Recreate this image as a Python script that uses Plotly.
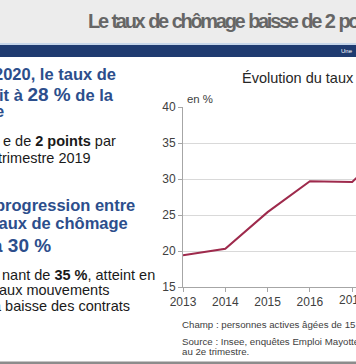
import plotly.graph_objects as go

# ---- data ----
years = [2013, 2014, 2015, 2016, 2017, 2018, 2019, 2020]
rate = [19.4, 20.3, 25.4, 29.7, 29.6, 35.0, 30.0, 28.0]
y_ticks = [15, 20, 25, 30, 35, 40]
x_ticks = [2013, 2014, 2015, 2016, 2017]

W, H = 356, 364
L, R, T, B = 183, 0, 107, 77
PW, PH = W - L - R, H - T - B

def px(x):
    return (x - L) / PW

def py(y):
    return (H - B - y) / PH

FONT = "Liberation Sans, Arial, sans-serif"
BLUE = "#2c4e8c"

fig = go.Figure()
fig.add_trace(go.Scatter(x=years, y=rate, mode="lines",
                         line=dict(color="#9e2a4c", width=2), hoverinfo="skip"))

shapes = [
    dict(type="rect", xref="paper", yref="paper", x0=px(-5), x1=px(W + 5), y0=py(0 - 5), y1=py(43),
         fillcolor="#ececec", line=dict(width=0), layer="below"),
    dict(type="rect", xref="paper", yref="paper", x0=px(-5), x1=px(W + 5), y0=py(43), y1=py(45),
         fillcolor="#c6d6ea", line=dict(width=0), layer="below"),
    dict(type="rect", xref="paper", yref="paper", x0=px(-5), x1=px(W + 5), y0=py(45), y1=py(57),
         fillcolor="#1f3b70", line=dict(width=0), layer="below"),
    dict(type="rect", xref="paper", yref="paper", x0=px(-5), x1=px(W + 5), y0=py(361.5), y1=py(H + 5),
         fillcolor="#8c8c8c", line=dict(width=0), layer="below"),
]

ann = []
def add(text, x, y, size, color, anchor="right"):
    ann.append(dict(text=text, x=px(x), y=py(y), xref="paper", yref="paper",
                    showarrow=False, xanchor=anchor, yanchor="middle",
                    font=dict(family=FONT, size=size, color=color), borderpad=0))

# header
add("<b><span style='letter-spacing:-2.3px;word-spacing:1.5px'>Le taux de chômage baisse de 2 po</span></b>",
    87, 21.5, 20, "#666666", anchor="left")
add("Une", 340, 51, 6, "#ffffff", anchor="left")

# left text
add("<b>2020, le taux de</b>", 116.7, 74.2, 16.5, BLUE)
add("<b>it à <span style='font-size:19px'>28 %</span> de la</b>", 115, 94, 16.5, BLUE)
add("<b>e</b>", 5, 111, 16.5, BLUE)
add("e de <b>2 points</b> par", 116.7, 140.6, 14.5, "#1a1a1a")
add("trimestre 2019", 91.7, 157.6, 14.5, "#1a1a1a")
add("<b>progression entre</b>", 136, 205, 16.5, BLUE)
add("<b>taux de chômage</b>", 129, 223.3, 16.5, BLUE)
add("<b>à 30 %</b>", 51.7, 245, 19, BLUE)
add("nant de <b>35 %</b>, atteint en", 156, 275, 14.5, "#1a1a1a")
add("aux mouvements", 110, 290, 14.5, "#1a1a1a")
add("a baisse des contrats", 131, 305.6, 14.5, "#1a1a1a")

# chart texts
add("Évolution du taux", 241, 77.7, 14.5, "#262626", anchor="left")
add("en %", 185.5, 99.3, 11.4, "#404040", anchor="left")
add("Champ : personnes actives âgées de 15", 181, 324.5, 9.7, "#404040", anchor="left")
add("Source : Insee, enquêtes Emploi Mayotte", 181, 341, 9.7, "#404040", anchor="left")
add("au 2e trimestre.", 181, 351.5, 9.7, "#404040", anchor="left")

# last (partially visible) x tick label, placed on the x axis scale
ann.append(dict(text=str(x_ticks[-1]), x=x_ticks[-1], xref="x", y=py(300), yref="paper",
                showarrow=False, xanchor="center", yanchor="middle",
                font=dict(family=FONT, size=12, color="#404040"), borderpad=0))

fig.update_layout(
    width=W, height=H,
    margin=dict(l=L, r=R, t=T, b=B, pad=0),
    paper_bgcolor="#ffffff", plot_bgcolor="#ffffff",
    showlegend=False,
    shapes=shapes, annotations=ann,
    font=dict(family=FONT, size=12, color="#404040"),
    xaxis=dict(range=[2013, 2017.09], tickvals=x_ticks, ticktext=[str(v) for v in x_ticks],
               showgrid=False, zeroline=False, showline=True, linecolor="#a6a6a6", linewidth=1,
               ticks="outside", ticklen=4, tickcolor="#a6a6a6",
               tickfont=dict(family=FONT, size=12, color="#404040")),
    yaxis=dict(range=[15, 40], tickvals=y_ticks, showgrid=True, gridcolor="#d9d9d9", gridwidth=1,
               zeroline=False, showline=True, linecolor="#a6a6a6", linewidth=1,
               ticks="outside", ticklen=4, tickcolor="#a6a6a6",
               tickfont=dict(family=FONT, size=12, color="#404040")),
)

fig.write_html("out.html", config={"displayModeBar": False},
               post_script="document.body.style.margin='0';document.body.style.overflow='hidden';")
